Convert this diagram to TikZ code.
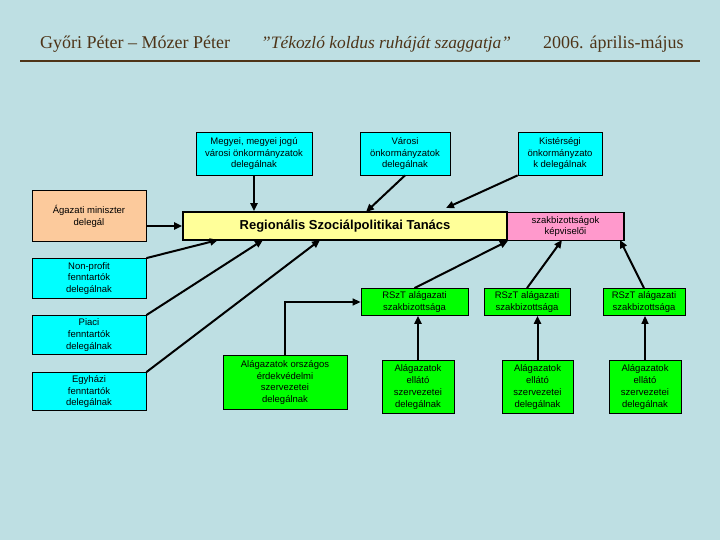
\documentclass[tikz,border=0pt]{standalone}
\usepackage{fontspec}
\setmainfont{Liberation Serif}
\newfontfamily\boxfont{Liberation Sans}
\usetikzlibrary{arrows.meta,calc}
\definecolor{bg}{RGB}{190,223,227}
\definecolor{hdr}{RGB}{78,52,24}
\definecolor{cyanbox}{RGB}{0,255,255}
\definecolor{orangebox}{RGB}{252,202,156}
\definecolor{yellowbox}{RGB}{255,255,153}
\definecolor{pinkbox}{RGB}{255,153,204}
\definecolor{greenbox}{RGB}{0,255,0}
\begin{document}
\begin{tikzpicture}[x=1pt,y=-1pt,
  box/.style={draw=black, line width=0.8pt, align=center, inner sep=1pt,
    font=\boxfont\fontsize{9.5}{11.8}\selectfont},
  bigbox/.style={draw=black, line width=1.8pt, align=center, inner sep=1pt},
  hdrtext/.style={anchor=base west, inner sep=0pt, text=hdr, font=\fontsize{18}{20}\selectfont},
  arr/.style={line width=2pt, -{Triangle[length=8pt,width=7pt]}},
  thinarr/.style={line width=1.4pt, -{Triangle[length=8pt,width=7pt]}}
]
\useasboundingbox (0,0) rectangle (720,540);
\fill[bg] (0,0) rectangle (720,540);

% header
\node[hdrtext] (h1) at (40,48.5) {Győri Péter – Mózer Péter};
\node[hdrtext, font=\itshape\fontsize{17.4}{20}\selectfont] (h2) at (261,48.5) {"Tékozló koldus ruháját szaggatja"};
\node[hdrtext] (h3) at (543,48.5) {2006. április-május};
\coordinate (hl) at (20,61);
\coordinate (hr) at (700,61);
\draw[hdr, line width=1.2pt] (hl) -- (hr);

% top boxes
\node[box, fill=cyanbox, minimum width=116, minimum height=43] (meg) at (254,153.5)
  {Megyei, megyei jogú\\városi önkormányzatok\\delegálnak};
\node[box, fill=cyanbox, minimum width=90, minimum height=43] (var) at (405,153.5)
  {Városi\\önkormányzatok\\delegálnak};
\node[box, fill=cyanbox, minimum width=84, minimum height=43] (kis) at (560,153.5)
  {Kistérségi\\önkormányzato\\k delegálnak};

% left column
\node[box, fill=orangebox, minimum width=114, minimum height=51] (aga) at (89,216)
  {Ágazati miniszter\\delegál};
\node[box, fill=cyanbox, minimum width=114, minimum height=40] (np) at (89,278.5)
  {Non-profit\\fenntartók\\delegálnak};
\node[box, fill=cyanbox, minimum width=114, minimum height=39] (pia) at (89,335)
  {Piaci\\fenntartók\\delegálnak};
\node[box, fill=cyanbox, minimum width=114, minimum height=38] (egy) at (89,391.5)
  {Egyházi\\fenntartók\\delegálnak};

% council
\node[bigbox, fill=yellowbox, minimum width=324, minimum height=28,
  font=\boxfont\bfseries\fontsize{13}{15}\selectfont] (rst) at (345,226)
  {Regionális Szociálpolitikai Tanács};
\node[bigbox, fill=pinkbox, minimum width=117, minimum height=28,
  font=\boxfont\fontsize{9.5}{11.5}\selectfont] (pink) at (565.5,226.5)
  {szakbizottságok\\képviselői};

% green boxes
\node[box, fill=greenbox, minimum width=124, minimum height=54] (ors) at (285,382.5)
  {Alágazatok országos\\érdekvédelmi\\szervezetei\\delegálnak};
\node[box, fill=greenbox, minimum width=107, minimum height=27] (r1) at (414.5,302)
  {RSzT alágazati\\szakbizottsága};
\node[box, fill=greenbox, minimum width=86, minimum height=27] (r2) at (527,302)
  {RSzT alágazati\\szakbizottsága};
\node[box, fill=greenbox, minimum width=82, minimum height=27] (r3) at (644,302)
  {RSzT alágazati\\szakbizottsága};
\node[box, fill=greenbox, minimum width=72, minimum height=53] (e1) at (418,387)
  {Alágazatok\\ellátó\\szervezetei\\delegálnak};
\node[box, fill=greenbox, minimum width=71, minimum height=53] (e2) at (537.5,387)
  {Alágazatok\\ellátó\\szervezetei\\delegálnak};
\node[box, fill=greenbox, minimum width=72, minimum height=53] (e3) at (645,387)
  {Alágazatok\\ellátó\\szervezetei\\delegálnak};

% connector end points
\coordinate (vt) at (366,212);
\coordinate (kt) at (446,208);
\coordinate (b1) at (218,240);
\coordinate (b2) at (263,240);
\coordinate (b3) at (320,240);
\coordinate (p1) at (562,240);
\coordinate (p2) at (620,240);

% connectors into the council
\draw[arr] (meg.south) -- (meg.south |- rst.north);
\draw[arr] (var.south) -- (vt);
\draw[arr] (kis.south west) -- (kt);
\draw[arr] (rst.west -| aga.east) -- (rst.west);
\draw[arr] (np.north east) -- (b1);
\draw[arr] (pia.north east) -- (b2);
\draw[arr] (egy.north east) -- (b3);
\draw[arr] (r1.north) -- (rst.south east);
\draw[arr] (r2.north) -- (p1);
\draw[arr] (r3.north) -- (p2);

% into the committees
\draw[thinarr] (ors.north) |- (r1.west);
\draw[arr] (e1.north) -- (e1.north |- r1.south);
\draw[arr] (e2.north) -- (e2.north |- r2.south);
\draw[thinarr] (e3.north) -- (e3.north |- r3.south);
\end{tikzpicture}
\end{document}
